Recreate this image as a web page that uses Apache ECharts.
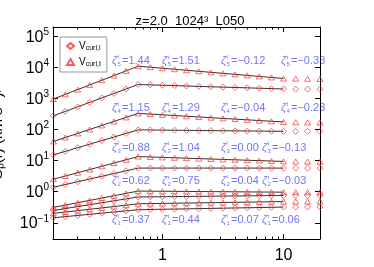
<!DOCTYPE html>
<html><head><meta charset="utf-8">
<script src="https://cdn.jsdelivr.net/npm/echarts@6/dist/echarts.min.js"></script>
<style>html,body{margin:0;padding:0;background:#fff}#c{width:374px;height:267px}</style>
</head><body><div id="c"></div>
<script>
// ---- data ----
const rVals = [0.126,0.158,0.2,0.251,0.316,0.398,0.501,0.631,0.794,1.0,1.26,1.58,2.0,2.51,3.16,3.98,5.01,6.31,7.94,10.0,12.6,15.8,20.0];
const T5 = [962,1361,1928,2729,3864,5470,7745,10965,10162,9419,8730,8091,7499,6950,6442,5970,5534,5129,4753,4406,4350,4300,4250];
const D5 = [277,385,537,748,1042,1452,2023,2818,2742,2667,2594,2523,2455,2388,2323,2259,2198,2138,2080,2023,2000,1990,1980];
const T4 = [41.4,55.7,75.0,100.9,135.8,182.8,246.0,331.1,314.1,297.9,282.5,267.9,254.1,241.0,228.6,216.8,205.6,195.0,184.9,175.4,172,170,168];
const D4 = [15.31,19.95,26.0,33.9,44.2,57.5,75.0,97.7,96.8,95.9,95.1,94.2,93.3,92.5,91.6,90.8,89.9,89.1,88.3,87.5,87.2,87.0,86.8];
const T3 = [2.52,3.21,4.07,5.18,6.58,8.36,10.62,13.49,13.09,12.71,12.33,11.97,11.61,11.27,10.94,10.62,10.30,10.0,9.70,9.42,9.35,9.3,9.25];
const D3 = [1.393,1.706,2.089,2.559,3.133,3.837,4.699,5.754,5.75,5.76,5.75,5.75,5.76,5.75,5.75,5.74,5.75,5.76,5.75,5.75,5.75,5.74,5.75];
const T2 = [0.3126,0.3715,0.4416,0.5248,0.6237,0.7413,0.881,1.047,1.040,1.033,1.026,1.019,1.012,1.005,0.998,0.991,0.984,0.977,0.971,0.964,0.962,0.960,0.958];
const D2 = [0.2489,0.2871,0.3311,0.3819,0.4406,0.5082,0.5861,0.6761,0.6823,0.6887,0.695,0.7015,0.7079,0.7145,0.7211,0.7278,0.7345,0.7413,0.7482,0.7551,0.757,0.759,0.761];
const T1 = [0.2004,0.2218,0.2455,0.2716,0.3006,0.3327,0.3681,0.4074,0.413,0.4188,0.4246,0.4305,0.4365,0.4426,0.4487,0.455,0.4613,0.4677,0.4742,0.4808,0.482,0.484,0.486];
const D1 = [0.1449,0.1578,0.1718,0.1871,0.2037,0.2218,0.2415,0.263,0.2673,0.2716,0.2761,0.2805,0.2851,0.2897,0.2944,0.2992,0.3041,0.309,0.3141,0.3192,0.320,0.321,0.322];
// fitted power-law segments (break at r=0.631, end at r=10)
const fitX = [0.126, 0.631, 10.0];
const fitT5 = [962, 10965, 4406];
const fitD5 = [277, 2818, 2023];
const fitT4 = [41.4, 331.1, 175.4];
const fitD4 = [15.31, 97.7, 87.5];
const fitT3 = [2.52, 13.49, 9.42];
const fitD3 = [1.393, 5.754, 5.75];
const fitT2 = [0.3126, 1.047, 0.964];
const fitD2 = [0.2489, 0.6761, 0.7551];
const fitT1 = [0.2004, 0.4074, 0.4808];
const fitD1 = [0.1449, 0.263, 0.3192];
// exponents
const orders = ['5','4','3','2','1'];
const zetaSmallL = ['1.44','1.15','0.88','0.62','0.37'];
const zetaSmallT = ['1.51','1.29','1.04','0.75','0.44'];
const zetaLargeL = ['\u22120.12','\u22120.04','0.00','0.04','0.07'];
const zetaLargeT = ['\u22120.33','\u22120.23','\u22120.13','\u22120.03','0.06'];
const xMajor = [1, 10];
const xMinor = [0.2,0.3,0.4,0.5,0.6,0.7,0.8,0.9,2,3,4,5,6,7,8,9];
const yMajor = [0.1,1,10,100,1000,10000,100000];
const titleText = 'z=2.0  1024\u00B3  L050';

// ---- chart ----
const chart = echarts.init(document.getElementById('c'));
const FONT = 'Liberation Sans';
const RED = '#ff3030';
const BLUE = '#7373ff';
const defs = [
  [T5, fitT5, 'triangle'], [D5, fitD5, 'diamond'],
  [T4, fitT4, 'triangle'], [D4, fitD4, 'diamond'],
  [T3, fitT3, 'triangle'], [D3, fitD3, 'diamond'],
  [T2, fitT2, 'triangle'], [D2, fitD2, 'diamond'],
  [T1, fitT1, 'triangle'], [D1, fitD1, 'diamond']
];
const series = [];
defs.forEach((d, i) => {
  series.push({
    type: 'line', data: fitX.map((x, j) => [x, d[1][j]]), symbol: 'none',
    lineStyle: {color: '#333', width: 1}, silent: true, z: 2, animation: false
  });
});
defs.forEach((d, i) => {
  let name = 's' + i;
  if (i === 1) name = 'Vl';
  if (i === 0) name = 'Vt';
  series.push({
    type: 'scatter', name: name, data: rVals.map((x, j) => [x, d[0][j]]),
    symbol: d[2], symbolSize: d[2] === 'diamond' ? 6 : [6, 5],
    itemStyle: {color: 'rgba(0,0,0,0)', borderColor: RED, borderWidth: 0.9},
    z: 3, animation: false
  });
});

const xBase = {type: 'log', min: 0.125, max: 20, gridIndex: 0, splitLine: {show: false}};
const yBase = {type: 'log', min: 0.03, max: 200000, gridIndex: 0, splitLine: {show: false}};
const lineAx = {show: true, lineStyle: {color: '#000', width: 1}};

function sup(v) {
  const e = Math.round(Math.log10(v));
  return '{b|10}{e|' + (e < 0 ? '\u2212' + (-e) : e) + '}';
}

// annotations
const rowY = [61, 108, 147.5, 181, 220];
const colX = [[112, 162, 221, 281], [112, 162, 221, 281], [112, 162, 221, 262], [112, 162, 221, 262], [112, 162, 221, 262]];
const graphics = [];
orders.forEach((p, r) => {
  const vals = [zetaSmallL[r], zetaSmallT[r], zetaLargeL[r], zetaLargeT[r]];
  const sups = ['l', 't', 'l', 't'];
  vals.forEach((v, c) => {
    const x = colX[r][c], y = rowY[r];
    graphics.push({type: 'text', x: x, y: y, style: {text: '\u03B6', fill: BLUE, font: 'italic 11px ' + FONT, verticalAlign: 'middle'}});
    graphics.push({type: 'text', x: x + 5.5, y: y - 4, style: {text: sups[c], fill: BLUE, font: '6px ' + FONT, verticalAlign: 'middle'}});
    graphics.push({type: 'text', x: x + 5.5, y: y + 3.5, style: {text: p, fill: BLUE, font: '6px ' + FONT, verticalAlign: 'middle'}});
    graphics.push({type: 'text', x: x + 10, y: y, style: {text: '=' + v, fill: BLUE, font: '11px ' + FONT, verticalAlign: 'middle'}});
  });
});

chart.setOption({
  animation: false,
  backgroundColor: '#fff',
  title: {text: titleText, left: 185, top: 10, textAlign: 'center',
    textStyle: {fontSize: 13, fontWeight: 'normal', color: '#000', fontFamily: FONT}},
  grid: {left: 53, top: 27, width: 267, height: 212, containLabel: false, outerBoundsMode: 'none'},
  legend: {
    orient: 'vertical', left: 60, top: 37, padding: [4, 6, 4, 6], itemGap: 5,
    itemWidth: 7, itemHeight: 6, borderColor: '#999', borderWidth: 1,
    data: [{name: 'Vl'}, {name: 'Vt'}],
    formatter: n => n === 'Vl' ? '{v|V}{s|curl,l}' : '{v|V}{s|curl,t}',
    textStyle: {color: '#000', fontFamily: FONT, padding: [0, 0, 0, 0],
      rich: {v: {fontSize: 10, fontFamily: FONT, color: '#000'}, s: {fontSize: 7, fontFamily: FONT, color: '#000', verticalAlign: 'bottom', padding: [5, 0, 0, 0]}}}
  },
  xAxis: [
    Object.assign({}, xBase, {position: 'bottom', axisLine: lineAx,
      axisTick: {show: true, inside: true, length: 5, customValues: xMajor, lineStyle: {color: '#000'}},
      axisLabel: {show: true, customValues: xMajor, fontSize: 16, color: '#000', fontFamily: FONT, margin: 9}}),
    Object.assign({}, xBase, {position: 'bottom', axisLine: {show: false},
      axisTick: {show: true, inside: true, length: 2.5, customValues: xMinor, lineStyle: {color: '#000'}},
      axisLabel: {show: false}}),
    Object.assign({}, xBase, {position: 'top', axisLine: lineAx,
      axisTick: {show: true, inside: true, length: 5, customValues: xMajor, lineStyle: {color: '#000'}},
      axisLabel: {show: false}}),
    Object.assign({}, xBase, {position: 'top', axisLine: {show: false},
      axisTick: {show: true, inside: true, length: 2.5, customValues: xMinor, lineStyle: {color: '#000'}},
      axisLabel: {show: false}})
  ],
  yAxis: [
    Object.assign({}, yBase, {position: 'left', axisLine: lineAx,
      name: 'S\u209A(r) (km s\u207B\u00B9)\u1D56', nameLocation: 'middle', nameGap: 48, nameRotate: 90,
      nameTextStyle: {fontSize: 15, fontFamily: FONT, color: '#000'},
      axisTick: {show: true, inside: true, length: 5, customValues: yMajor, lineStyle: {color: '#000'}},
      axisLabel: {show: true, customValues: yMajor, margin: 4, formatter: sup,
        rich: {b: {fontSize: 16, fontFamily: FONT, color: '#000', lineHeight: 18, verticalAlign: 'bottom'},
               e: {fontSize: 10, fontFamily: FONT, color: '#000', verticalAlign: 'top', lineHeight: 10}}}}),
    Object.assign({}, yBase, {position: 'right', axisLine: lineAx,
      axisTick: {show: true, inside: true, length: 5, customValues: yMajor, lineStyle: {color: '#000'}},
      axisLabel: {show: false}})
  ],
  series: series,
  graphic: graphics
});
</script></body></html>
